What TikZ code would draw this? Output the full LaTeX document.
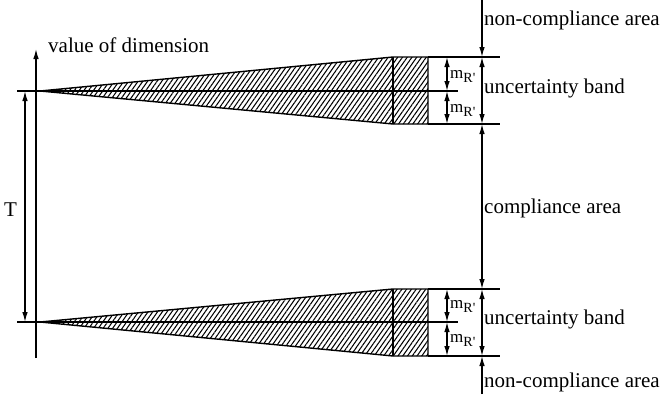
\documentclass[tikz,border=0pt]{standalone}
\usepackage{fontspec}
\setmainfont{Liberation Serif}
\usetikzlibrary{arrows.meta,patterns.meta}
\newcommand{\mRp}{m\raisebox{-4.5pt}{\fontsize{14}{14}\selectfont R\textquotesingle}}
\begin{document}
\begin{tikzpicture}[x=1pt,y=-1pt,
  ln/.style={line width=1.4pt},
  thin ln/.style={line width=1.2pt},
  dim/.style={line width=1.2pt,{Latex[length=10pt,width=5.5pt]}-{Latex[length=10pt,width=5.5pt]}},
  dimend/.style={line width=1.2pt,-{Latex[length=10pt,width=5.5pt]}},
  lbl/.style={anchor=base west,inner sep=0pt,font=\fontsize{21}{24}\selectfont},
  mlbl/.style={anchor=base west,inner sep=0pt,font=\fontsize{17}{20}\selectfont},
  hatch/.style={pattern={Lines[angle=55,distance=3.9pt,line width=1.05pt]}}]
\useasboundingbox (0,0) rectangle (664,394);
% coordinates
\foreach \n/\y in {a/57,b/91,c/124,d/289,e/322,f/356}{
  \coordinate (L\n) at (17,\y);
  \coordinate (W\n) at (393,\y);
  \coordinate (R\n) at (428,\y);
  \coordinate (M\n) at (447,\y);
  \coordinate (V\n) at (482,\y);
  \coordinate (E\n) at (500,\y);
  \coordinate (X\n) at (458,\y);
}
\coordinate (apexU) at (40,91);
\coordinate (apexL) at (40,322);
\coordinate (axB) at (36,358);
\coordinate (axT) at (36,49);
\coordinate (Tt) at (25,91);
\coordinate (Tb) at (25,322);
\coordinate (Vtop) at (482,0);
\coordinate (Vbot) at (482,394);
% wedges
\draw[ln,hatch] (apexU) -- (Wa) -- (Ra) -- (Rc) -- (Wc) -- cycle;
\draw[ln,hatch] (apexL) -- (Wd) -- (Rd) -- (Rf) -- (Wf) -- cycle;
\draw[ln] (Wa) -- (Wc);
\draw[ln] (Wd) -- (Wf);
% horizontal lines
\draw[ln] (Lb) -- (Xb);
\draw[ln] (Le) -- (Xe);
\draw[thin ln] (Ra) -- (Ea);
\draw[thin ln] (Rc) -- (Ec);
\draw[thin ln] (Rd) -- (Ed);
\draw[thin ln] (Rf) -- (Ef);
% axis
\draw[dimend] (axB) -- (axT);
\draw[dim] (Tt) -- (Tb);
% mR dimensions
\draw[dim] (Ma) -- (Mb);
\draw[dim] (Mb) -- (Mc);
\draw[dim] (Md) -- (Me);
\draw[dim] (Me) -- (Mf);
% right vertical
\draw[dimend] (Vtop) -- (Va);
\draw[dim] (Va) -- (Vc);
\draw[dim] (Vc) -- (Vd);
\draw[dim] (Vd) -- (Vf);
\draw[dimend] (Vbot) -- (Vf);
% labels
\node[lbl] (val) at (48,52) {value of dimension};
\node[lbl] (T) at (4,216) {T};
\node[lbl] (nc1) at (484,25) {non-compliance area};
\node[lbl] (ub1) at (484,93) {uncertainty band};
\node[lbl] (ca) at (484,213) {compliance area};
\node[lbl] (ub2) at (484,324) {uncertainty band};
\node[lbl] (nc2) at (484,387) {non-compliance area};
\node[mlbl] (m1) at (450,78) {\mRp};
\node[mlbl] (m2) at (450,112) {\mRp};
\node[mlbl] (m3) at (450,308) {\mRp};
\node[mlbl] (m4) at (450,342) {\mRp};
\end{tikzpicture}
\end{document}
